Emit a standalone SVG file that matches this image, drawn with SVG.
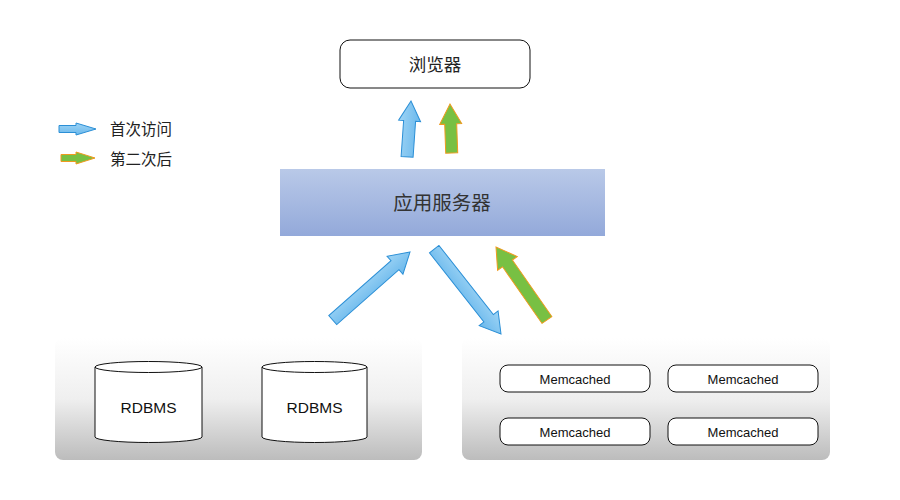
<svg xmlns="http://www.w3.org/2000/svg" width="900" height="500" viewBox="0 0 900 500">
<defs>
<linearGradient id="srv" x1="0" y1="0" x2="0" y2="1">
<stop offset="0" stop-color="#b9c9e8"/>
<stop offset="1" stop-color="#93a9da"/>
</linearGradient>
<linearGradient id="panel" x1="0" y1="0" x2="0" y2="1">
<stop offset="0" stop-color="#ffffff"/>
<stop offset="0.5" stop-color="#efefef"/>
<stop offset="1" stop-color="#bcbcbc"/>
</linearGradient>
<linearGradient id="blue" x1="0" y1="0" x2="0" y2="1">
<stop offset="0" stop-color="#9ed4f5"/>
<stop offset="1" stop-color="#6ab8ec"/>
</linearGradient>
</defs>
<style>
.cjk{font-family:"Noto Sans CJK SC","Noto Sans",sans-serif;fill:#222}
.lat{font-family:"Liberation Sans",Arial,sans-serif;fill:#111}
.box{fill:#fff;stroke:#111;stroke-width:1}
.ba{fill:url(#blue);stroke:#2b8fd6;stroke-width:1}
.ga{fill:#78c043;stroke:#f09a1e;stroke-width:1}
</style>
<rect width="900" height="500" fill="#fff"/>

<g id="legend">
<polygon class="ba" points="59,125.5 76,125.5 76,123 96,129 76,135 76,132.5 59,132.5"/>
<text class="cjk" x="110" y="134.5" font-size="15.5">首次访问</text>
<polygon class="ga" points="61,154.5 76,154.5 76,152 95,158 76,164 76,161.5 61,161.5"/>
<text class="cjk" x="110" y="164.5" font-size="15.5">第二次后</text>
</g>

<g id="browser">
<rect class="box" x="340" y="40" width="190" height="48" rx="10"/>
<text class="cjk" x="435" y="71" font-size="17.5" text-anchor="middle">浏览器</text>
</g>

<g id="appserver">
<rect x="280" y="169" width="325" height="67" fill="url(#srv)"/>
<text class="cjk" x="442" y="210" font-size="19.5" text-anchor="middle" style="fill:#333">应用服务器</text>
</g>

<g id="db-panel">
<rect x="55" y="338" width="367" height="122" rx="8" fill="url(#panel)"/>
<g id="db1">
<path class="box" d="M95,367 L95,437 A53.5,5.5 0 0 0 202,437 L202,367"/>
<ellipse class="box" cx="148.5" cy="367" rx="53.5" ry="5.5"/>
<text class="lat" x="148.5" y="412.5" font-size="15.5" text-anchor="middle">RDBMS</text>
</g>
<g id="db2">
<path class="box" d="M262,367 L262,437 A52.5,5.5 0 0 0 367,437 L367,367"/>
<ellipse class="box" cx="314.5" cy="367" rx="52.5" ry="5.5"/>
<text class="lat" x="314.5" y="412.5" font-size="15.5" text-anchor="middle">RDBMS</text>
</g>
</g>

<g id="cache-panel">
<rect x="462" y="338" width="368" height="122" rx="8" fill="url(#panel)"/>
<g id="mc1">
<rect class="box" x="500" y="365" width="150" height="27" rx="8"/>
<text class="lat" x="575" y="383.5" font-size="13" text-anchor="middle">Memcached</text>
</g>
<g id="mc2">
<rect class="box" x="668" y="365" width="150" height="27" rx="8"/>
<text class="lat" x="743" y="383.5" font-size="13" text-anchor="middle">Memcached</text>
</g>
<g id="mc3">
<rect class="box" x="500" y="418" width="150" height="27" rx="8"/>
<text class="lat" x="575" y="436.5" font-size="13" text-anchor="middle">Memcached</text>
</g>
<g id="mc4">
<rect class="box" x="668" y="418" width="150" height="27" rx="8"/>
<text class="lat" x="743" y="436.5" font-size="13" text-anchor="middle">Memcached</text>
</g>
</g>

<g id="connectors">
<polygon class="ba" transform="translate(411,101) rotate(-86)" points="0,0 -20,-11 -20,-6 -56,-6 -56,6 -20,6 -20,11"/>
<polygon class="ga" transform="translate(450,104) rotate(-92)" points="0,0 -20,-11 -20,-6 -49,-6 -49,6 -20,6 -20,11"/>
<polygon class="ba" transform="translate(410,252) rotate(-41.4)" points="0,0 -20,-12 -20,-6 -103,-6 -103,6 -20,6 -20,12"/>
<polygon class="ba" transform="translate(501,334) rotate(51.8)" points="0,0 -20,-12 -20,-6 -108,-6 -108,6 -20,6 -20,12"/>
<polygon class="ga" transform="translate(496,247) rotate(-124.9)" points="0,0 -20,-12 -20,-6 -89,-6 -89,6 -20,6 -20,12"/>
</g>
</svg>
